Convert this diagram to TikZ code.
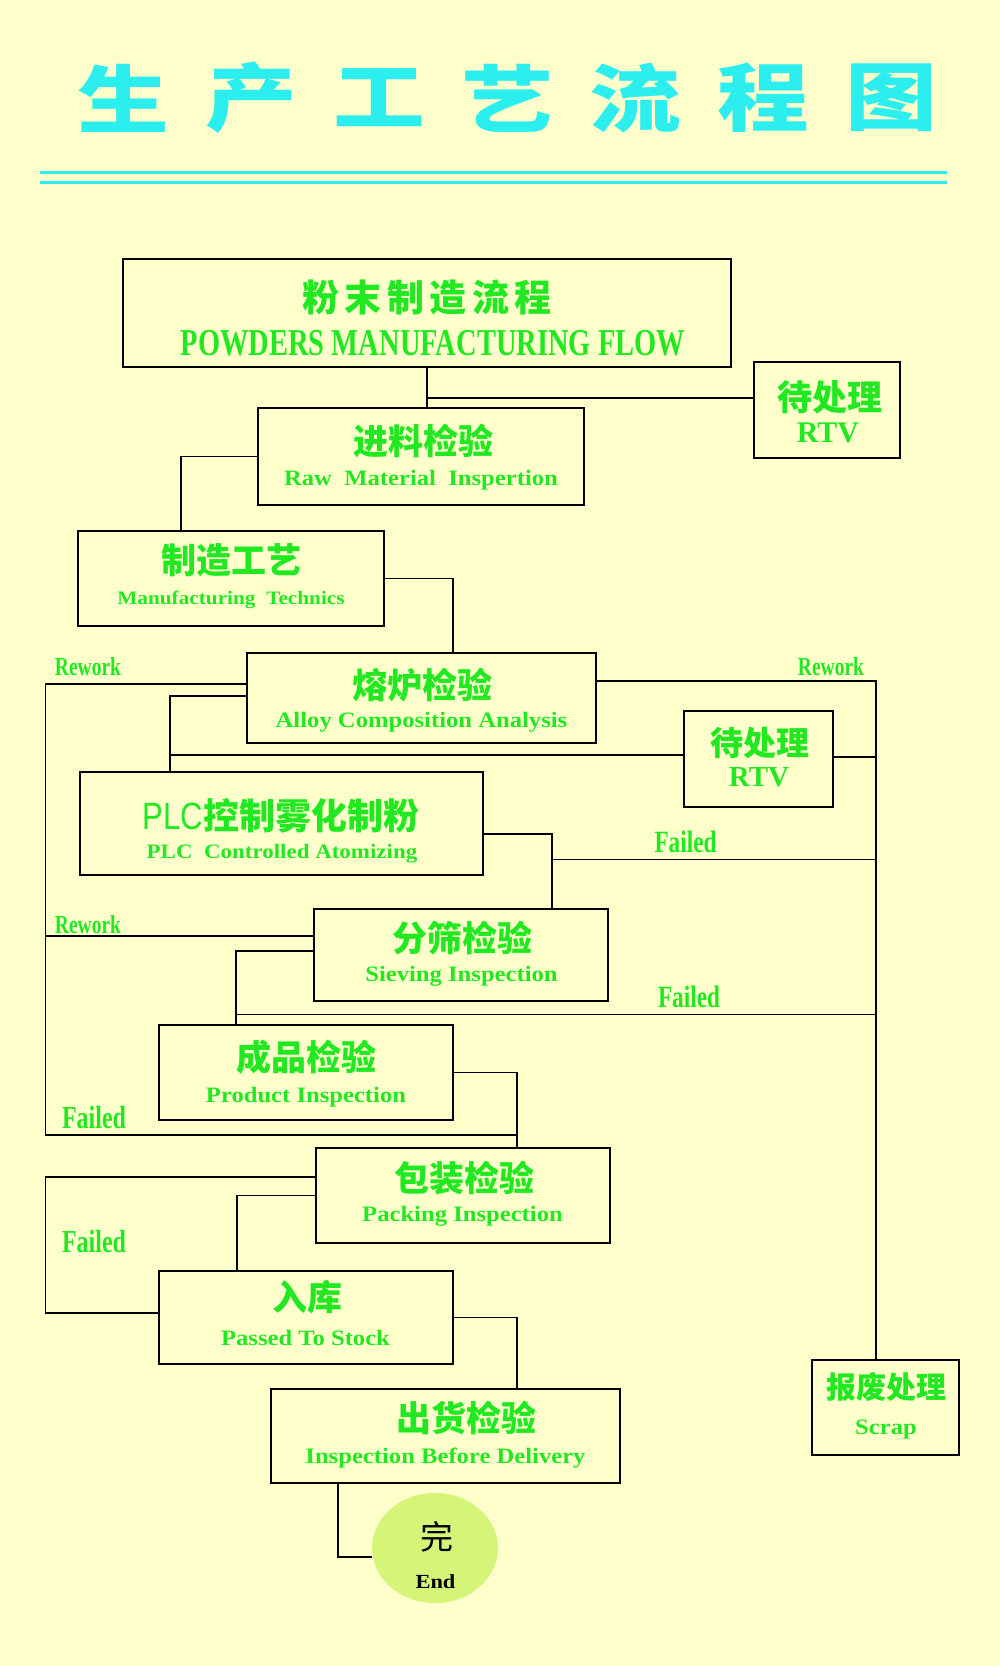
\documentclass[tikz,border=0pt]{standalone}
\usepackage{fontspec}
\usetikzlibrary{shapes.geometric}
\setmainfont{Liberation Serif}
\newfontfamily\cnfont{Noto Sans CJK SC}
\newfontfamily\cnwide{Noto Sans CJK SC}[LetterSpace=15]
\newfontfamily\titlefont{Noto Sans CJK SC}[FakeStretch=1.24]
\newfontfamily\enfont{Liberation Serif}[FakeStretch=1.12]
\newfontfamily\encond{Liberation Serif}[FakeStretch=0.75]
\newfontfamily\plcfont{Liberation Sans}[FakeStretch=0.82]
\definecolor{paper}{RGB}{255,255,204}
\definecolor{cngreen}{RGB}{34,232,34}
\definecolor{titlecyan}{RGB}{45,238,238}
\definecolor{endfill}{RGB}{212,245,120}

\begin{document}
\begin{tikzpicture}[x=1pt, y=-1pt,
  box/.style={draw, line width=1.5pt, inner sep=0pt},
  titlech/.style={text=titlecyan, inner sep=0pt, font=\titlefont\bfseries\fontsize{74}{74}\selectfont},
  cn/.style={text=cngreen, inner sep=0pt, font=\cnfont\bfseries\fontsize{35}{35}\selectfont},
  en/.style={text=cngreen, inner sep=0pt, anchor=base, font=\enfont\bfseries\fontsize{22}{22}\selectfont},
  tag/.style={text=cngreen, inner sep=0pt, anchor=base, font=\encond\bfseries\fontsize{31}{31}\selectfont},
  link/.style={line width=1.3pt}]
\useasboundingbox (0, 0) rectangle (1000, 1666);
\fill [paper] (0, 0) rectangle (1000, 1666);

\foreach \ch [count=\i from 0] in {生,产,工,艺,流,程,图}
  \node (title\i) at (123+128*\i, 98) [titlech] {\ch};
\draw [titlecyan, line width=3pt] (40, 172.5) -- (947, 172.5);
\draw [titlecyan, line width=3pt] (40, 182.5) -- (947, 182.5);

\node (top) at (427, 313) [box, minimum width=608, minimum height=108] {};
\node (topcn) at (427, 297) [cn, font=\cnwide\bfseries\fontsize{37}{37}\selectfont] {粉末制造流程};
\node (topen) at (433, 355) [tag, font=\encond\bfseries\fontsize{38}{38}\selectfont] {POWDERS MANUFACTURING FLOW};

\node (rtva) at (827, 410) [box, minimum width=146, minimum height=96] {};
\node (rtvacn) at (830, 397) [cn] {待处理};
\node (rtvaen) at (828, 442) [en, font=\rmfamily\bfseries\fontsize{30}{30}\selectfont] {RTV};

\node (raw) at (421, 456.5) [box, minimum width=326, minimum height=97] {};
\node (rawcn) at (423, 441.5) [cn] {进料检验};
\node (rawen) at (421, 485) [en] {Raw\ \ Material\ \ Inspertion};

\node (tech) at (231, 578.5) [box, minimum width=306, minimum height=95] {};
\node (techcn) at (231, 560) [cn] {制造工艺};
\node (techen) at (231, 604) [en, font=\enfont\bfseries\fontsize{19}{19}\selectfont] {Manufacturing\ \ Technics};

\node (alloy) at (421.5, 698) [box, minimum width=349, minimum height=90] {};
\node (alloycn) at (422, 685) [cn] {熔炉检验};
\node (alloyen) at (421.5, 727) [en] {Alloy Composition Analysis};

\node (rtvb) at (758.5, 759) [box, minimum width=149, minimum height=96] {};
\node (rtvbcn) at (760, 743) [cn, font=\cnfont\bfseries\fontsize{33}{33}\selectfont] {待处理};
\node (rtvben) at (759, 786) [en, font=\rmfamily\bfseries\fontsize{29}{29}\selectfont] {RTV};

\node (plc) at (281.5, 823.5) [box, minimum width=403, minimum height=103] {};
\node (plccn) at (281, 816) [cn, font=\cnfont\bfseries\fontsize{36}{36}\selectfont] {{\plcfont\mdseries\fontsize{38}{38}\selectfont PLC}控制雾化制粉};
\node (plcen) at (282, 858) [en, font=\enfont\bfseries\fontsize{20.5}{20.5}\selectfont] {PLC\ \ Controlled Atomizing};

\node (sieve) at (461, 955) [box, minimum width=294, minimum height=92] {};
\node (sievecn) at (462, 938) [cn] {分筛检验};
\node (sieveen) at (461.5, 981.5) [en] {Sieving Inspection};

\node (product) at (306, 1072.5) [box, minimum width=294, minimum height=95] {};
\node (productcn) at (306, 1057) [cn] {成品检验};
\node (producten) at (306, 1102.5) [en] {Product Inspection};

\node (pack) at (463, 1195.5) [box, minimum width=294, minimum height=95] {};
\node (packcn) at (464, 1178) [cn] {包装检验};
\node (packen) at (462.5, 1221.5) [en] {Packing Inspection};

\node (stock) at (306, 1317.5) [box, minimum width=294, minimum height=93] {};
\node (stockcn) at (307, 1297) [cn] {入库};
\node (stocken) at (305.5, 1345.5) [en] {Passed To Stock};

\node (deliv) at (445.5, 1436) [box, minimum width=349, minimum height=94] {};
\node (delivcn) at (466, 1418) [cn] {出货检验};
\node (deliven) at (445.5, 1463.5) [en] {Inspection Before Delivery};

\node (scrap) at (885.5, 1407.5) [box, minimum width=147, minimum height=95] {};
\node (scrapcn) at (886.5, 1387) [cn, font=\cnfont\bfseries\fontsize{30}{30}\selectfont] {报废处理};
\node (scrapen) at (886, 1434.5) [en] {Scrap};

\node (endn) at (435, 1548) [ellipse, fill=endfill, inner sep=0pt, minimum width=126, minimum height=110] {};
\node (endcn) at (437, 1537) [cn, text=black, font=\cnfont\fontsize{33}{33}\selectfont] {完};
\node (enden) at (435.5, 1588) [en, text=black, font=\enfont\bfseries\fontsize{20}{20}\selectfont] {End};

\node (rwa) at (88, 675.5) [tag, font=\encond\bfseries\fontsize{26}{26}\selectfont] {Rework};
\node (rwb) at (831, 675.5) [tag, font=\encond\bfseries\fontsize{26}{26}\selectfont] {Rework};
\node (rwc) at (88, 933) [tag, font=\encond\bfseries\fontsize{26}{26}\selectfont] {Rework};
\node (fla) at (685.5, 852.5) [tag] {Failed};
\node (flb) at (689, 1007) [tag] {Failed};
\node (flc) at (94, 1128) [tag, font=\encond\bfseries\fontsize{32}{32}\selectfont] {Failed};
\node (fld) at (94, 1252) [tag, font=\encond\bfseries\fontsize{32}{32}\selectfont] {Failed};

\draw [link] (top.south) -- (top.south |- raw.north);
\draw [link] ([yshift=12]rtva.west) -| (top.south);
\draw [link] (raw.west) -| ([xshift=-50]tech.north);
\draw [link] (tech.east) -| ([xshift=31.5]alloy.north);
\draw [link] ([yshift=14]alloy.west) -- ++(-200.5, 0) -- ++(0, 451) -- ++(470.5, 0);
\draw [link] (product.east) -| ([xshift=54]pack.north);
\draw [link] ([yshift=2]alloy.west) -| ([xshift=-111.5]plc.north);
\draw [link] ([yshift=4]rtvb.west) -- ++(-514, 0);
\draw [link] ([yshift=2]rtvb.east) -- ++(43, 0);
\draw [link] ([yshift=17]alloy.east) -| ([xshift=-9.5]scrap.north);
\draw [link] ([yshift=-10.5]plc.east) -| ([xshift=91]sieve.north);
\draw [link] ([xshift=91]sieve.north) ++(0, -49) -- ++(324, 0);
\draw [link] ([yshift=19]sieve.west) -- ++(-267.5, 0);
\draw [link] ([yshift=4]sieve.west) -| ([xshift=-70]product.north);
\draw [link] ([xshift=-70]product.north) ++(0, -10) -- ++(640, 0);
\draw [link] ([yshift=18.5]pack.west) -- ++(-269.5, 0) |- ([yshift=4.5]stock.west);
\draw [link] (pack.west) -| ([xshift=-69]stock.north);
\draw [link] (stock.east) -| ([xshift=71.5]deliv.north);
\draw [link] ([xshift=-107.5]deliv.south) |- ([yshift=-9]endn.west);
\end{tikzpicture}
\end{document}
